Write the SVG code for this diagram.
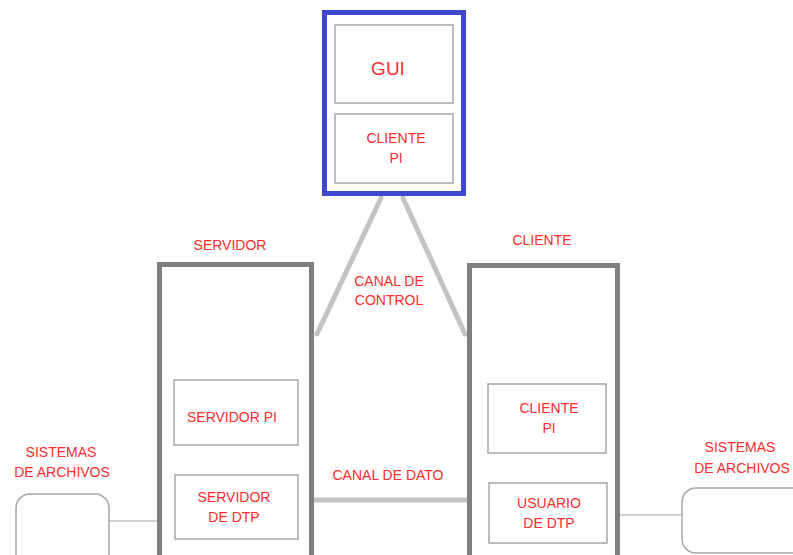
<svg xmlns="http://www.w3.org/2000/svg" width="793" height="555" viewBox="0 0 793 555">
<style>
.t{font-family:"Liberation Sans",Arial,sans-serif;font-size:14px;fill:#ff2d2d;text-anchor:middle}
.big{stroke:#7f7f7f;stroke-width:5;fill:#fff}
.inner{stroke:#a8a8a8;stroke-width:1.5;fill:#fff}
.fs{stroke:#a8a8a8;stroke-width:1.5;fill:#fff}
.conn{stroke:#c3c3c3;stroke-width:5;fill:none;stroke-linecap:round}
.thin{stroke:#c3c3c3;stroke-width:1.5;fill:none}
</style>
<rect width="793" height="555" fill="#fff"/>
<g id="connectors">
<line class="conn" x1="381" y1="198" x2="317" y2="334"/>
<line class="conn" x1="403" y1="198" x2="465" y2="334"/>
<line class="conn" x1="314" y1="500" x2="468" y2="500" stroke-linecap="butt"/>
<line class="thin" x1="109" y1="521" x2="157" y2="521"/>
<line class="thin" x1="620" y1="515" x2="682" y2="515"/>
<text class="t" x="389" y="286">CANAL DE</text>
<text class="t" x="389" y="305">CONTROL</text>
<text class="t" x="388" y="480">CANAL DE DATO</text>
</g>
<g id="gui-node">
<rect x="324.5" y="12.5" width="139" height="181" fill="#fff" stroke="#3f48cc" stroke-width="5"/>
<rect class="inner" x="335" y="25" width="118" height="78"/>
<text class="t" x="388" y="75" style="font-size:19px">GUI</text>
<rect class="inner" x="335" y="114" width="118" height="69"/>
<text class="t" x="396" y="143">CLIENTE</text>
<text class="t" x="396" y="163">PI</text>
</g>
<g id="servidor-node">
<text class="t" x="230" y="250">SERVIDOR</text>
<rect class="big" x="159.5" y="264.5" width="152" height="300"/>
<rect class="inner" x="174" y="380" width="124" height="65"/>
<text class="t" x="232" y="422">SERVIDOR PI</text>
<rect class="inner" x="175" y="475" width="123" height="64"/>
<text class="t" x="234" y="502">SERVIDOR</text>
<text class="t" x="234" y="522">DE DTP</text>
</g>
<g id="cliente-node">
<text class="t" x="542" y="245">CLIENTE</text>
<rect class="big" x="469.5" y="265.5" width="148" height="300"/>
<rect class="inner" x="488" y="384" width="118" height="69"/>
<text class="t" x="549" y="413">CLIENTE</text>
<text class="t" x="549" y="433">PI</text>
<rect class="inner" x="489" y="483" width="118" height="60"/>
<text class="t" x="549" y="508">USUARIO</text>
<text class="t" x="549" y="528">DE DTP</text>
</g>
<g id="fs-left">
<text class="t" x="61" y="457">SISTEMAS</text>
<text class="t" x="62" y="477">DE ARCHIVOS</text>
<rect class="fs" x="16" y="494" width="93" height="80" rx="14"/>
</g>
<g id="fs-right">
<text class="t" x="740" y="452">SISTEMAS</text>
<text class="t" x="742" y="473">DE ARCHIVOS</text>
<rect class="fs" x="682" y="488" width="130" height="65" rx="14"/>
</g>
</svg>
